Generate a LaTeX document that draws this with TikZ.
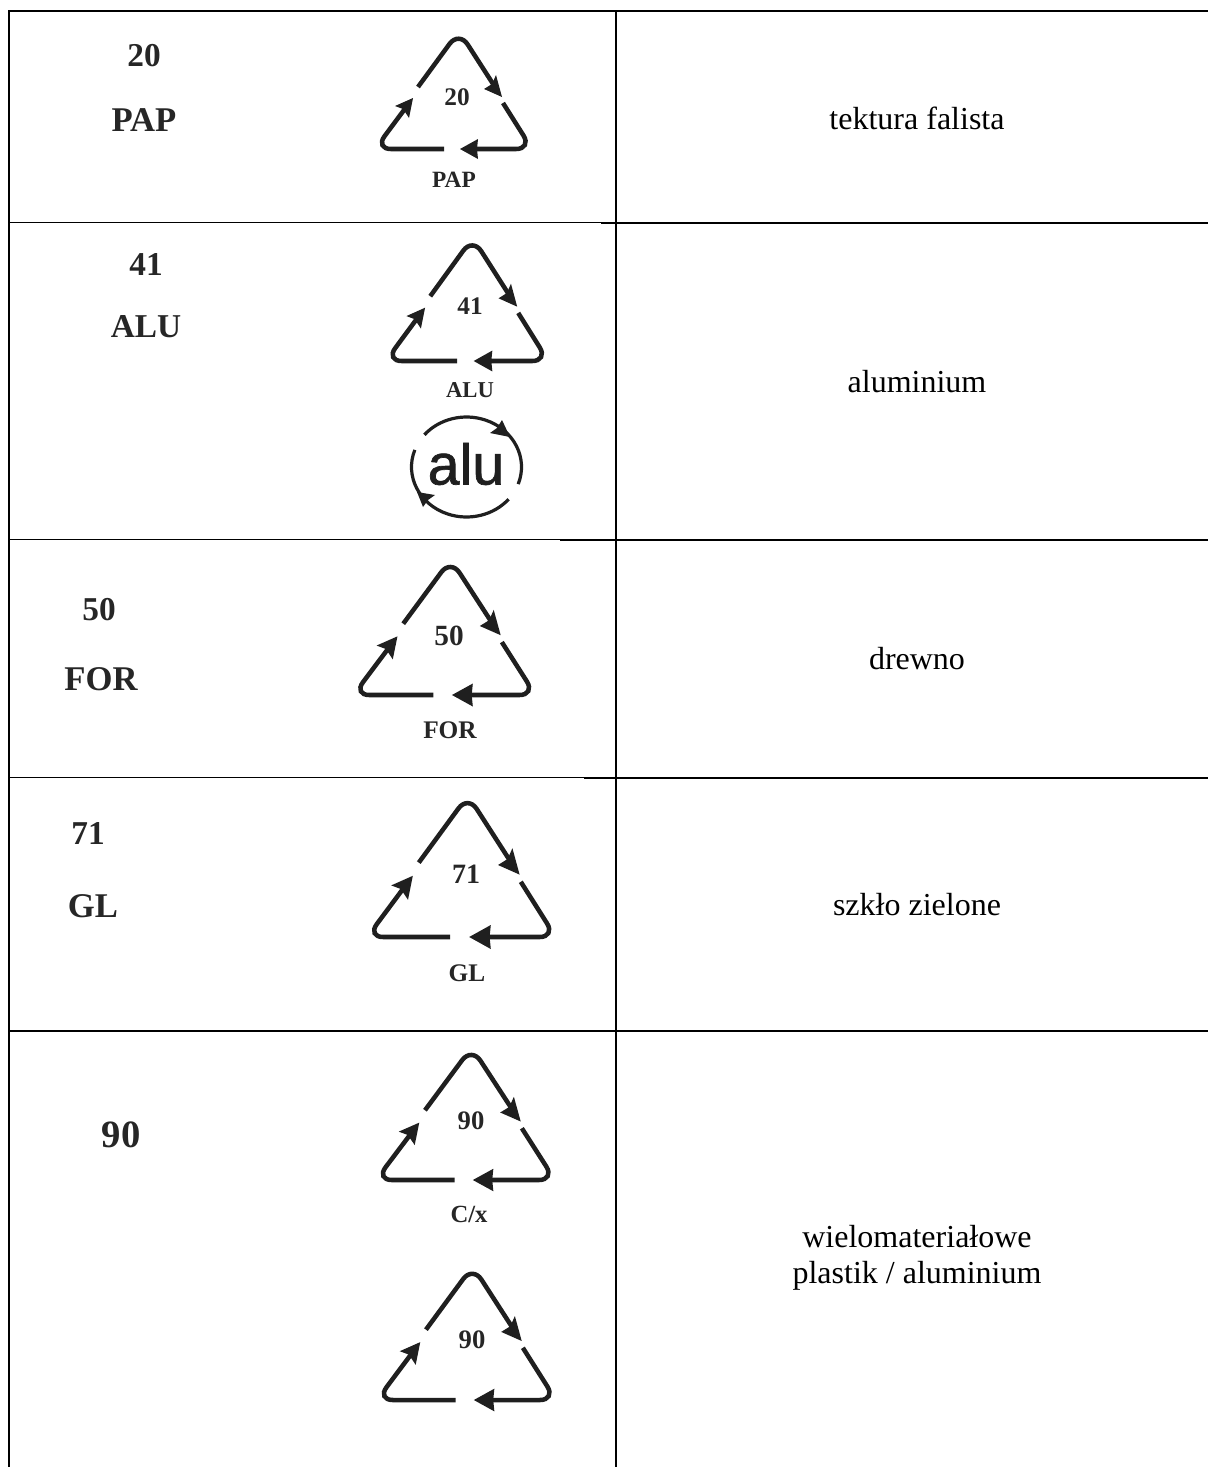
\documentclass[tikz,border=0pt]{standalone}
\usepackage{fontspec}
\setmainfont{Liberation Serif}
\newfontfamily\alufont[FakeBold=1.2]{Liberation Sans}
\tikzset{
  x=0.75pt,y=-0.75pt,
  rule/.style={line width=1.5pt,black},
  thinrule/.style={line width=0.95pt,black},
  glyph/.style={line width=3.4pt,color=black!88,rounded corners=12pt,line cap=butt},
  ahead/.style={fill=black!88,draw=none},
  side/.style={inner sep=0pt,font=\bfseries\fontsize{25}{25}\selectfont,text=black!85},
  inum/.style={inner sep=0pt,font=\bfseries\fontsize{#1}{#1}\selectfont,text=black!85},
  body/.style={inner sep=0pt,align=center,font=\fontsize{24}{27}\selectfont,text=black}
}
% #1 cx, #2 bottom y, #3 sx, #4 sy
\newcommand{\recyc}[4]{%
  \begin{scope}[shift={(#1,#2)},xscale=#3,yscale=#4]
    \draw[glyph] (49,-46) -- (78,0) -- (16,0);
    \draw[glyph] (-10,0) -- (-79,0) -- (-47,-43);
    \draw[glyph] (-36,-62) -- (5,-118) -- (41,-62);
    \fill[ahead] (6,0) -- (24,-10) -- (23,0) -- (24,10) -- cycle;
    \fill[ahead] (48,-52) -- (30,-60) -- (38,-65) -- (42,-74) -- cycle;
    \fill[ahead] (-41,-51) -- (-59,-43) -- (-51,-40) -- (-45,-31) -- cycle;
  \end{scope}}
\begin{document}
\begin{tikzpicture}
\useasboundingbox (0,0) rectangle (1208,1467);
% table
\coordinate (tl) at (9,11);
\coordinate (tr) at (1208,11);
\coordinate (bl) at (9,1467);
\coordinate (mt) at (616,11);
\coordinate (mb) at (616,1467);
\draw[rule] (bl) -- (tl) -- (tr);
\draw[rule] (mt) -- (mb);
\foreach \yy/\xx in {222.7/601,539.7/560,777.8/584,1031/569}{
  \draw[thinrule] (9,\yy) -- (\xx,\yy);
  \draw[rule] (\xx,\yy) -- (1208,\yy);
}
% left column
\node[side] (n20) at (144,56) {20};
\node[side,font=\bfseries\fontsize{26}{26}\selectfont] (pap) at (144,120) {PAP};
\node[side] (n41) at (146,264) {41};
\node[side] (alu) at (146,327) {ALU};
\node[side] (n50) at (99,610) {50};
\node[side,font=\bfseries\fontsize{26}{26}\selectfont] (for) at (101,679) {FOR};
\node[side] (n71) at (88,833) {71};
\node[side,font=\bfseries\fontsize{26}{26}\selectfont] (gl) at (93,906) {GL};
\node[side,font=\bfseries\fontsize{29}{29}\selectfont] (n90) at (121,1135) {90};
% symbols
\recyc{454}{149}{1}{1}
\node[inum=19] (s20) at (457,97) {20};
\node[inum=17.5] (spap) at (454,180) {PAP};
\recyc{467.5}{361}{1.035}{1.045}
\node[inum=19] (s41) at (470,306) {41};
\node[inum=17] (salu) at (470,390) {ALU};
\recyc{445}{695}{1.16}{1.15}
\node[inum=22] (s50) at (449,636) {50};
\node[inum=19] (sfor) at (450,730) {FOR};
\recyc{462}{937}{1.2}{1.2}
\node[inum=21] (s71) at (466,874) {71};
\node[inum=19] (sgl) at (467,973) {GL};
\recyc{466}{1180}{1.14}{1.125}
\node[inum=20] (s90a) at (471,1121) {90};
\node[inum=18.5] (scx) at (469,1214) {C/x};
\recyc{467}{1400}{1.14}{1.135}
\node[inum=20] (s90b) at (472,1340) {90};
% alu circle
\node[inner sep=0pt,font=\alufont\fontsize{43}{43}\selectfont,text=black!88] (alutxt) at (466,464) {alu};
\draw[line width=2.4pt,black!88] (466.5,467) ++(200:55 and 50) arc[start angle=200,end angle=40,x radius=55,y radius=50];
\draw[line width=2.4pt,black!88] (466.5,467) ++(20:55 and 50) arc[start angle=20,end angle=-140,x radius=55,y radius=50];
\fill[ahead] (510,437) -- (490,433) -- (497,428) -- (502,420) -- cycle;
\fill[ahead] (417,492) -- (435,495) -- (428,500) -- (423,507) -- cycle;
% right column
\node[body] (r1) at (917,118) {tektura falista};
\node[body] (r2) at (917,382) {aluminium};
\node[body] (r3) at (917,659) {drewno};
\node[body] (r4) at (917,905) {szkło zielone};
\node[body] (r5) at (917,1258) {wielomateriałowe\\plastik / aluminium};
\end{tikzpicture}
\end{document}
